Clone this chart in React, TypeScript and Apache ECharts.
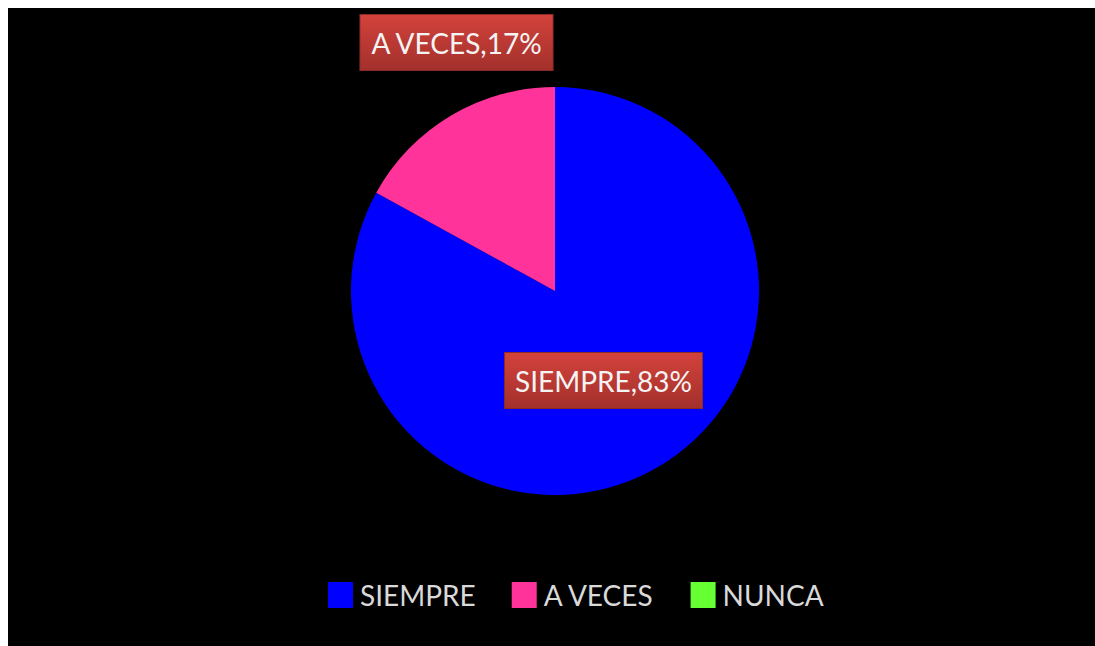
import React, { useEffect, useRef } from "react";
import * as echarts from "echarts";

const categories = ["SIEMPRE", "A VECES", "NUNCA"];
const values = [83, 17, 0];
const colors = ["#0000ff", "#ff3399", "#66ff33"];
const labelCenters: [number, number][] = [
  [595.5, 372.5],
  [448.5, 34.5],
];

export default function App() {
  const ref = useRef<HTMLDivElement>(null);
  useEffect(() => {
    document.documentElement.style.overflow = "hidden";
    document.body.style.overflow = "hidden";
    const chart = echarts.init(ref.current!, null, { renderer: "svg" });
    chart.setOption({
      animation: false,
      backgroundColor: "#000000",
      legend: {
        left: 315,
        top: 568,
        itemWidth: 25,
        itemHeight: 26,
        itemGap: 36,
        icon: "rect",
        textStyle: { color: "#d9d9d9", fontSize: 28, fontFamily: "Lato", padding: [0, 0, 0, 2] },
        data: categories,
      },
      series: [
        {
          type: "pie",
          center: [547, 283],
          radius: 204,
          startAngle: 90,
          clockwise: true,
          data: categories.map((c, i) => ({
            name: c,
            value: values[i],
            itemStyle: { color: colors[i] },
            label: { show: values[i] > 0 },
          })),
          label: {
            show: true,
            formatter: (p: any) => `${p.name},${Math.round(p.percent)}%`,
            color: "#f4f4f4",
            fontSize: 28,
            fontFamily: "Lato",
            backgroundColor: new echarts.graphic.LinearGradient(0, 0, 0, 1, [
              { offset: 0, color: "#d3423b" },
              { offset: 1, color: "#a3302c" },
            ]),
            borderColor: "#8a2a26",
            borderWidth: 1,
            padding: [14, 10, 13, 10],
            align: "center",
            verticalAlign: "middle",
          },
          labelLine: { show: false },
          labelLayout: (params: any) => {
            const c = labelCenters[params.dataIndex];
            if (!c) return {};
            return { x: c[0], y: c[1], align: "center", verticalAlign: "middle" };
          },
        },
      ],
    });
    return () => chart.dispose();
  }, []);
  return (
    <div
      ref={ref}
      style={{ position: "fixed", left: 8, top: 8, width: 1120, height: 660 }}
    />
  );
}
